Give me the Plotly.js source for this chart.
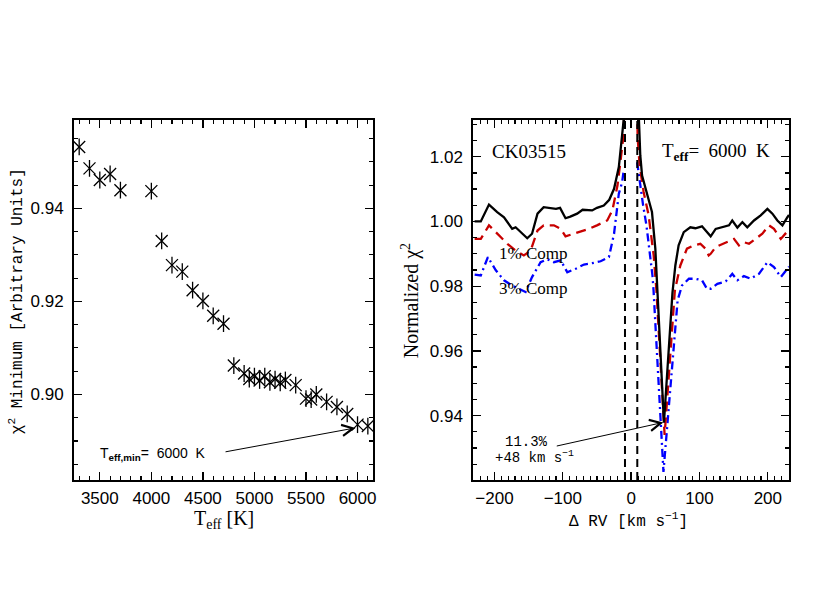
<!DOCTYPE html>
<html>
<head>
<meta charset="utf-8">
<script src="https://cdn.plot.ly/plotly-3.0.1.min.js"></script>
<style>html,body{margin:0;padding:0;background:#fff;}#chart{width:830px;height:600px;}</style>
</head>
<body>
<div id="chart"></div>
<script>
// ---- Left panel: chi^2 minimum vs Teff ----
const teff = [3300,3400,3500,3600,3700,4000,4100,4200,4300,4400,4500,4600,4700,4800,4900,5000,5100,5200,5300,5400,5500,5600,5700,5800,5900,6000,6100];
const chiMin = [0.9532,0.9486,0.9461,0.9474,0.9439,0.9437,0.9330,0.9278,0.9264,0.9224,0.9201,0.9169,0.9152,0.9062,0.9045,0.9039,0.9039,0.9033,0.9031,0.9020,0.8991,0.9000,0.8984,0.8973,0.8958,0.8935,0.8932];
const teffExtra = [4950,5050,5150,5250,5550];
const chiMinExtra = [0.9033,0.9030,0.9026,0.9025,0.8989];

// ---- Right panel: normalized chi^2 vs delta RV ----
const rvBlack = [-229,-220,-208,-196,-186,-174,-169,-162,-152,-145,-137,-128,-118,-110,-104,-96,-89,-79,-71,-64,-57,-50,-40,-32,-25,-18,-13,-11,-9,null,9,11,13.4,16,23,30.5,35.4,38.5,48,60.5,64.7,69.5,77,86.6,94,103.7,108.6,113.5,116.4,123.7,133.5,143.2,148,155.5,162.8,170,179.8,189.6,199.4,206.7,214,221.4,228.7,231];
const chiBlack = [1.0000,1.0000,1.0052,1.0029,1.0013,0.9977,0.9982,0.9967,0.9948,0.9962,1.0024,1.0044,1.0042,1.0039,1.0042,1.0010,1.0015,1.0024,1.0036,1.0036,1.0034,1.0042,1.0049,1.0067,1.0101,1.0168,1.0261,1.0312,1.045,null,1.045,1.0307,1.0204,1.0142,1.0091,1.0029,0.9916,0.9780,0.9378,0.9780,0.9864,0.9926,0.9967,0.9982,0.9979,0.9985,0.9972,0.9962,0.9954,0.9977,0.9982,0.9988,1.0003,0.9981,0.9998,0.9982,1.0003,1.0019,1.0039,1.0024,1.0003,0.9988,1.0013,1.0020];

const rvRed = [-229,-220,-208,-196,-181,-169,-157,-147,-137,-128,-113,-103,-96,-84,-71,-62,-50,-35,-27.5,-20,-15.4,-11.5,-10.5,-9,null,9,9.5,12.4,18.3,25.6,33,37,49,64,72,81.7,91.5,101.3,108.6,113.5,116.4,123.7,133.5,143.2,150.5,157.8,165,172.5,182,192,201.8,209,219,228.7,231];
const chiRed = [0.9946,0.9946,0.9988,0.9962,0.9931,0.9910,0.9895,0.9910,0.9972,0.9988,0.9988,0.9977,0.9954,0.9962,0.9970,0.9977,0.9988,1.0003,1.0034,1.0111,1.0189,1.0260,1.0310,1.040,null,1.035,1.0260,1.0173,1.0091,1.0019,0.9895,0.9787,0.9340,0.9787,0.9864,0.9916,0.9926,0.9931,0.9916,0.9895,0.9900,0.9921,0.9931,0.9941,0.9946,0.9926,0.9936,0.9931,0.9946,0.9962,0.9988,0.9977,0.9946,0.9972,0.9975];

const rvBlue = [-229,-220,-209.6,-198,-186,-174,-164,-154.5,-145,-132.5,-122.7,-113,-103,-93.4,-81,-69,-57,-44.7,-32.5,-25,-18,-13.2,-10.8,null,8.8,12.7,17.6,22.4,27.4,31.2,32.8,47.3,68,74.4,84.6,94,103.7,111,116.4,126.2,138.4,148,155.5,165,175,187,199.4,209,219,228.7,231];
const chiBlue = [0.9836,0.9833,0.9890,0.9849,0.9818,0.9802,0.9792,0.9782,0.9828,0.9874,0.9883,0.9874,0.9880,0.9843,0.9854,0.9867,0.9871,0.9877,0.9890,0.9962,1.0086,1.0121,1.0158,null,1.0183,1.0121,1.0049,0.9988,0.9905,0.9833,0.9787,0.9226,0.9756,0.9802,0.9823,0.9823,0.9818,0.9792,0.9792,0.9807,0.9815,0.9838,0.9818,0.9831,0.9823,0.9838,0.9874,0.9859,0.9828,0.9854,0.9860];

const vlineRV = [-9, 9];
const vlineSpan = [0.90, 1.05];

const xTicksLeft = [3500,4000,4500,5000,5500,6000];
const yTicksLeft = [0.90,0.92,0.94];
const xTicksRight = [-200,-100,0,100,200];
const yTicksRight = [0.94,0.96,0.98,1.00,1.02];

const markerLine = {color:'#000', width:1.3};
const traces = [
  {x:teff, y:chiMin, xaxis:'x', yaxis:'y', mode:'markers', type:'scatter',
   marker:{symbol:'x-thin-open', size:12, color:'#000', line:markerLine}},
  {x:teff, y:chiMin, xaxis:'x', yaxis:'y', mode:'markers', type:'scatter',
   marker:{symbol:'line-ns-open', size:12, color:'#000', line:markerLine}},
  {x:teffExtra, y:chiMinExtra, xaxis:'x', yaxis:'y', mode:'markers', type:'scatter',
   marker:{symbol:'x-thin-open', size:12, color:'#000', line:markerLine}},
  {x:teffExtra, y:chiMinExtra, xaxis:'x', yaxis:'y', mode:'markers', type:'scatter',
   marker:{symbol:'line-ns-open', size:12, color:'#000', line:markerLine}},
  {x:rvBlue, y:chiBlue, xaxis:'x2', yaxis:'y2', mode:'lines', type:'scatter', connectgaps:false,
   line:{color:'#0000FF', width:2.3, dash:'8px,4px,2px,4px'}},
  {x:rvRed, y:chiRed, xaxis:'x2', yaxis:'y2', mode:'lines', type:'scatter', connectgaps:false,
   line:{color:'#C80000', width:2.3, dash:'10px,6px'}},
  {x:rvBlack, y:chiBlack, xaxis:'x2', yaxis:'y2', mode:'lines', type:'scatter', connectgaps:false,
   line:{color:'#000', width:2.3}},
];
vlineRV.forEach(v => traces.push({x:[v,v], y:vlineSpan, xaxis:'x2', yaxis:'y2', mode:'lines', type:'scatter',
   line:{color:'#000', width:2, dash:'8px,5px'}}));

const tickFont = {family:'Liberation Sans, Arial, sans-serif', size:17, color:'#000'};
function axis(extra){
  return Object.assign({showgrid:false, zeroline:false, showline:true, linecolor:'#000', linewidth:2,
    mirror:'allticks', ticks:'inside', ticklen:8, tickwidth:1.3, tickcolor:'#000',
    tickfont:tickFont, fixedrange:true}, extra);
}
const serif = 'Liberation Serif, Times New Roman, serif';
const mono = 'Liberation Mono, Courier New, monospace';
const sp = '\u00a0';
const layout = {
  width:830, height:600, margin:{l:0,r:0,t:0,b:0}, showlegend:false,
  paper_bgcolor:'#fff', plot_bgcolor:'#fff',
  xaxis: axis({domain:[0.0892,0.4494], range:[3250,6150], tickvals:xTicksLeft, ticktext:xTicksLeft.map(String),
    ticklabelstandoff:2, minor:{dtick:100, ticklen:4, tickwidth:1.2, tickcolor:'#000', ticks:'inside'}, anchor:'y'}),
  yaxis: axis({domain:[0.2,0.8008], range:[0.8816,0.9591], tickvals:yTicksLeft, ticktext:yTicksLeft.map(v=>v.toFixed(2)),
    ticklabelstandoff:5, minor:{dtick:0.005, tick0:0.88, ticklen:4, tickwidth:1.2, tickcolor:'#000', ticks:'inside'}, anchor:'x'}),
  xaxis2: axis({domain:[0.5702,0.9506], range:[-231,231], tickvals:xTicksRight,
    ticktext:xTicksRight.map(v=> v<0 ? '\u2212'+Math.abs(v) : String(v)),
    ticklabelstandoff:2, minor:{dtick:10, tick0:0, ticklen:4, tickwidth:1.2, tickcolor:'#000', ticks:'inside'}, anchor:'y2'}),
  yaxis2: axis({domain:[0.2,0.8008], range:[0.9201,1.0315], tickvals:yTicksRight, ticktext:yTicksRight.map(v=>v.toFixed(2)),
    ticklabelstandoff:5, minor:{dtick:0.005, tick0:0.92, ticklen:4, tickwidth:1.2, tickcolor:'#000', ticks:'inside'}, anchor:'x2'}),
  annotations: [
    {xref:'paper', yref:'paper', x:0.0193, y:0.498, text:'\u03c7<sup>2</sup> Minimum [Arbitrary Units]', textangle:-90,
     showarrow:false, xanchor:'center', yanchor:'middle', font:{family:mono, size:16, color:'#000'}},
    {xref:'paper', yref:'paper', x:0.2699, y:0.135, text:'T<sub>eff</sub> [K]', showarrow:false,
     xanchor:'center', yanchor:'middle', font:{family:serif, size:20, color:'#000'}},
    {xref:'paper', yref:'paper', x:0.494, y:0.498, text:'Normalized \u03c7<sup>2</sup>', textangle:-90,
     showarrow:false, xanchor:'center', yanchor:'middle', font:{family:serif, size:20, color:'#000'}},
    {xref:'paper', yref:'paper', x:0.7578, y:0.1333, text:'\u0394 RV [km s<sup>\u22121</sup>]', showarrow:false,
     xanchor:'center', yanchor:'middle', font:{family:mono, size:16, color:'#000'}},
    {xref:'paper', yref:'paper', x:0.6373, y:0.7467, text:'CK03515', showarrow:false,
     xanchor:'center', yanchor:'middle', font:{family:serif, size:19, color:'#000'}},
    {xref:'paper', yref:'paper', x:0.8627, y:0.7467, text:'T<sub><b>eff</b></sub>='+sp+sp+'6000'+sp+sp+'K', showarrow:false,
     xanchor:'center', yanchor:'middle', font:{family:serif, size:19, color:'#000'}},
    {xref:'paper', yref:'paper', x:0.6422, y:0.5783, text:'1% Comp', showarrow:false,
     xanchor:'center', yanchor:'middle', font:{family:serif, size:17, color:'#000'}},
    {xref:'paper', yref:'paper', x:0.6422, y:0.52, text:'3% Comp', showarrow:false,
     xanchor:'center', yanchor:'middle', font:{family:serif, size:17, color:'#000'}},
    {xref:'paper', yref:'paper', x:0.6349, y:0.263, text:'11.3%', showarrow:false,
     xanchor:'center', yanchor:'middle', font:{family:mono, size:14, color:'#000'}},
    {xref:'paper', yref:'paper', x:0.644, y:0.238, text:'+48 km s<sup>\u22121</sup>', showarrow:false,
     xanchor:'center', yanchor:'middle', font:{family:mono, size:14, color:'#000'}},
    {xref:'paper', yref:'paper', x:0.1843, y:0.2433, text:'T<sub><b>eff,min</b></sub>='+sp+sp+'6000'+sp+sp+'K', showarrow:false,
     xanchor:'center', yanchor:'middle', font:{family:'Liberation Sans, Arial, sans-serif', size:14, color:'#000'}},
    // arrows
    {xref:'x', yref:'y', axref:'x', ayref:'y', x:5980, y:0.8928, ax:4705, ay:0.8876, text:'', showarrow:true,
     arrowhead:5, arrowsize:2.2, arrowwidth:1, arrowcolor:'#000'},
    {xref:'x2', yref:'y2', axref:'x2', ayref:'y2', x:47, y:0.9379, ax:-111, ay:0.9305, text:'', showarrow:true,
     arrowhead:5, arrowsize:2.2, arrowwidth:1, arrowcolor:'#000'},
  ]
};
Plotly.newPlot('chart', traces, layout, {staticPlot:true, displayModeBar:false});
</script>
</body>
</html>
